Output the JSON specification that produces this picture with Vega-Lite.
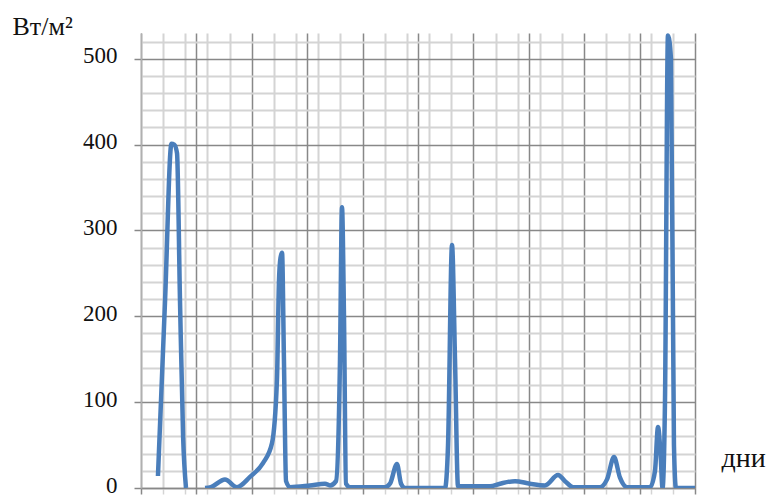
{
  "$schema": "https://vega.github.io/schema/vega-lite/v6.json",
  "autosize": "none",
  "width": 554,
  "height": 455,
  "padding": {"left": 141, "top": 33, "right": 78, "bottom": 8},
  "background": "white",
  "config": {"view": {"stroke": null}},
  "data": {
    "values": [
      {"day": 1.53, "w": 14},
      {"day": 2.17, "w": 218},
      {"day": 2.75, "w": 401},
      {"day": 3.0, "w": 400},
      {"day": 3.25, "w": 390},
      {"day": 3.52, "w": 218},
      {"day": 3.8, "w": 60},
      {"day": 4.06, "w": 0},
      {"day": 4.9, "w": null},
      {"day": 5.78, "w": 0},
      {"day": 6.3, "w": 1},
      {"day": 7.58, "w": 10},
      {"day": 8.66, "w": 1},
      {"day": 9.84, "w": 13},
      {"day": 11.01, "w": 29},
      {"day": 11.82, "w": 52},
      {"day": 12.27, "w": 126},
      {"day": 12.45, "w": 240},
      {"day": 12.59, "w": 268},
      {"day": 12.73, "w": 274},
      {"day": 12.9, "w": 150},
      {"day": 13.09, "w": 8},
      {"day": 13.45, "w": 1},
      {"day": 15.25, "w": 3},
      {"day": 16.61, "w": 5},
      {"day": 17.06, "w": 3},
      {"day": 17.6, "w": 8},
      {"day": 17.96, "w": 150},
      {"day": 18.14, "w": 327},
      {"day": 18.32, "w": 200},
      {"day": 18.5, "w": 5},
      {"day": 18.86, "w": 1},
      {"day": 22.0, "w": 1},
      {"day": 22.47, "w": 5},
      {"day": 23.1, "w": 28},
      {"day": 23.47, "w": 5},
      {"day": 23.83, "w": 0},
      {"day": 27.44, "w": 0},
      {"day": 27.71, "w": 50},
      {"day": 28.07, "w": 283},
      {"day": 28.34, "w": 150},
      {"day": 28.61, "w": 2},
      {"day": 31.5, "w": 2},
      {"day": 32.4, "w": 5},
      {"day": 33.75, "w": 8},
      {"day": 35.1, "w": 5},
      {"day": 36.46, "w": 3},
      {"day": 37.64, "w": 15},
      {"day": 38.27, "w": 8},
      {"day": 38.99, "w": 1},
      {"day": 41.43, "w": 1},
      {"day": 42.06, "w": 10},
      {"day": 42.69, "w": 36},
      {"day": 43.23, "w": 12},
      {"day": 43.86, "w": 1},
      {"day": 45.94, "w": 1},
      {"day": 46.39, "w": 20},
      {"day": 46.66, "w": 71},
      {"day": 46.89, "w": 40},
      {"day": 47.07, "w": 0},
      {"day": 47.29, "w": 100},
      {"day": 47.56, "w": 527},
      {"day": 47.83, "w": 500},
      {"day": 48.1, "w": 50},
      {"day": 48.28, "w": 0},
      {"day": 50, "w": 0}
    ]
  },
  "mark": {"type": "line", "color": "#4a7ebb", "strokeWidth": 4.5, "interpolate": "monotone", "clip": true},
  "encoding": {
    "x": {
      "field": "day",
      "type": "quantitative",
      "scale": {"domain": [0, 50], "nice": false, "zero": false},
      "axis": {
        "values": [0,2,4,5,6,8,10,12,14,15,16,18,20,22,24,25,26,28,30,32,34,35,36,38,40,42,44,45,46,48,50],
        "labels": false,
        "grid": true,
        "gridColor": {"condition": {"test": "datum.value % 5 === 0", "value": "#888888"}, "value": "#d4d4d4"},
        "gridWidth": {"condition": {"test": "datum.value % 5 === 0", "value": 1.5}, "value": 2},
        "tickColor": {"condition": {"test": "datum.value % 5 === 0", "value": "#888888"}, "value": "#d4d4d4"},
        "tickSize": 6,
        "tickWidth": 1.5,
        "domainColor": "#888888",
        "domainWidth": 1.5,
        "title": "дни",
        "titleFont": "Liberation Serif",
        "titleFontSize": 28,
        "titleFontWeight": "normal",
        "titleColor": "#111",
        "titleAlign": "left",
        "titleBaseline": "alphabetic",
        "titleAnchor": "start",
        "titleX": 580,
        "titleY": -22
      }
    },
    "y": {
      "field": "w",
      "type": "quantitative",
      "scale": {"domain": [0, 530], "nice": false},
      "axis": {
        "values": [0,20,40,60,80,100,120,140,160,180,200,220,240,260,280,300,320,340,360,380,400,420,440,460,480,500,520],
        "labelExpr": "datum.value % 100 === 0 ? datum.label : ''",
        "labelFont": "Liberation Serif",
        "labelFontSize": 23,
        "labelColor": "#111",
        "labelPadding": 17,
        "labelOffset": -3,
        "grid": true,
        "gridColor": {"condition": {"test": "datum.value % 100 === 0", "value": "#888888"}, "value": "#d4d4d4"},
        "gridWidth": {"condition": {"test": "datum.value % 100 === 0", "value": 1.5}, "value": 2},
        "tickColor": "#888888",
        "tickOpacity": {"condition": {"test": "datum.value % 100 === 0", "value": 1}, "value": 0},
        "tickSize": 7,
        "tickWidth": 1.5,
        "domainColor": "#b0b0b0",
        "domainWidth": 1.5,
        "title": "Вт/м²",
        "titleFont": "Liberation Serif",
        "titleFontSize": 26,
        "titleFontWeight": "normal",
        "titleColor": "#111",
        "titleAngle": 0,
        "titleAlign": "left",
        "titleBaseline": "alphabetic",
        "titleX": -129,
        "titleY": 1
      }
    }
  }
}
